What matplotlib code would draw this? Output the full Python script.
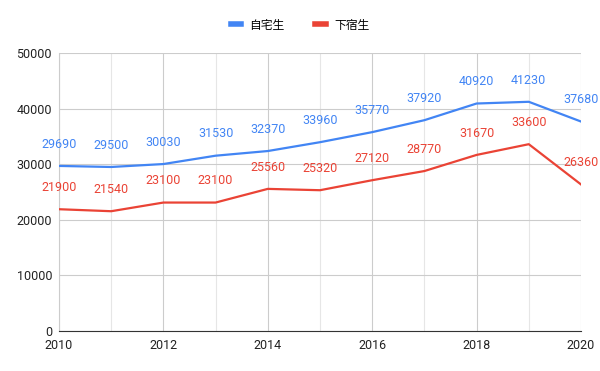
import matplotlib
matplotlib.use("Agg")
import matplotlib.pyplot as plt

plt.rcParams["font.family"] = ["Roboto", "Noto Sans CJK JP", "DejaVu Sans"]

# Data
years = [2010, 2011, 2012, 2013, 2014, 2015, 2016, 2017, 2018, 2019, 2020]
home = [29690, 29500, 30030, 31530, 32370, 33960, 35770, 37920, 40920, 41230, 37680]
lodging = [21900, 21540, 23100, 23100, 25560, 25320, 27120, 28770, 31670, 33600, 26360]
series_names = ["自宅生", "下宿生"]
colors = ["#4285F4", "#EA4335"]

fig = plt.figure(figsize=(6, 3.71), dpi=100)
ax = fig.add_axes([0.0983, 0.108, 0.87, 0.749])

for vals, name, c in zip([home, lodging], series_names, colors):
    ax.plot(years, vals, color=c, lw=1.6, label=name, zorder=3)
    for x, y in zip(years, vals):
        ax.annotate(str(y), (x, y), xytext=(0, 11), textcoords="offset points",
                    ha="center", va="bottom", color=c, fontsize=9, zorder=4)

ax.set_xlim(2010, 2020)
ax.set_ylim(0, 50000)
ax.set_yticks(range(0, 50001, 10000))
ax.set_xticks(range(2010, 2021, 2))
ax.set_xticks(range(2010, 2021, 1), minor=True)
ax.grid(axis="y", color="#cccccc", lw=0.8)
ax.grid(axis="x", which="major", color="#cccccc", lw=0.8)
ax.grid(axis="x", which="minor", color="#e6e6e6", lw=0.8)
ax.set_axisbelow(True)
for s in ["top", "right"]:
    ax.spines[s].set_visible(False)
ax.spines["left"].set_color("#cccccc")
ax.spines["bottom"].set_color("#333333")
ax.tick_params(length=0, labelsize=9, colors="#222222", which="both")
ax.tick_params(axis="y", pad=5)
ax.tick_params(axis="x", pad=6)

fig.legend(*ax.get_legend_handles_labels(), loc="center",
           bbox_to_anchor=(0.5, (371 - 25) / 371), ncol=2, frameon=False,
           prop={"family": ["Noto Sans CJK JP"], "size": 8.5},
           handlelength=0.9, columnspacing=2.6, handletextpad=0.7)
for h in fig.legends[0].get_lines():
    h.set_linewidth(4)

fig.savefig("out.png", dpi=100)
